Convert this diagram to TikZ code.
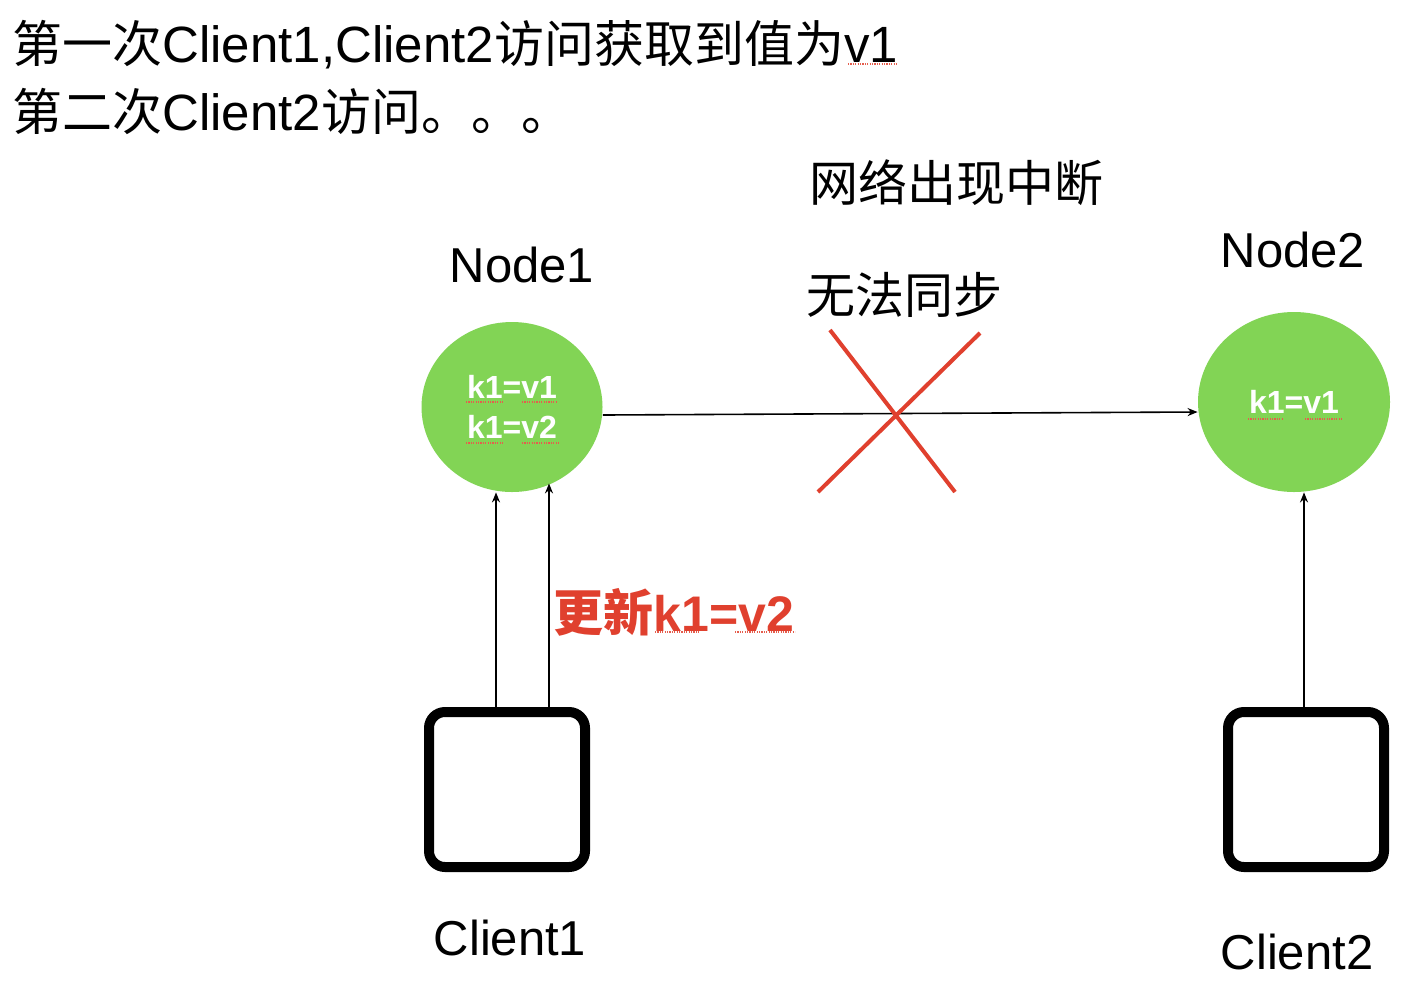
\documentclass[tikz,border=0pt]{standalone}
\usepackage{fontspec}
\setmainfont{Liberation Sans}
\newfontfamily\cjk{Noto Sans CJK SC}
\usetikzlibrary{shapes.geometric,arrows.meta}
\definecolor{ngreen}{RGB}{130,212,85}
\definecolor{xred}{RGB}{224,64,46}
\newcommand\zh[1]{{\cjk #1}}
\begin{document}
\begin{tikzpicture}[x=0.5pt,y=-0.5pt,
  arr/.style={line width=0.8pt,-{Stealth[length=5pt,width=4pt]}},
  nodecircle/.style={ellipse,fill=ngreen,inner sep=0pt,text=white,
    font=\fontsize{16}{20}\selectfont\bfseries,align=center},
  clientbox/.style={draw,line width=5pt,rounded corners=8pt,
    minimum width=78pt,minimum height=77.5pt,inner sep=0pt},
  lbl/.style={font=\fontsize{24.5}{28}\selectfont,inner sep=0pt},
  toplbl/.style={font=\fontsize{25}{30}\selectfont,inner sep=0pt,anchor=base west},
  spell/.style={xred!85,line width=0.7pt,dash pattern=on 0.6pt off 0.6pt}]
\useasboundingbox (0,0) rectangle (1406,986);
\fill[white] (0,0) rectangle (1406,986);

% header text
\node[toplbl] (t1) at (12,62) {\zh{第一次}{\fontsize{25.5}{30}\selectfont Client1,Client2}\zh{访问获取到值为}{\fontsize{25.5}{30}\selectfont v1}};
\node[toplbl] (t2) at (12,130) {\zh{第二次}{\fontsize{25.5}{30}\selectfont Client2}\zh{访问。。。}};

% labels
\node[lbl] (lnet) at (956,183) {\zh{网络出现中断}};
\node[lbl] (lsync) at (904,295) {\zh{无法同步}};
\node[lbl] (lnode1) at (522,265) {Node1};
\node[lbl] (lnode2) at (1293,250) {Node2};
\node[lbl] (lc1) at (510,938) {Client1};
\node[lbl] (lc2) at (1297,952) {Client2};

% nodes
\node[nodecircle,minimum width=90.5pt,minimum height=85pt] (n1) at (512,407)
  {\raisebox{-1pt}{k1=v1}\\[0pt]\raisebox{-1pt}{k1=v2}};
\node[nodecircle,minimum width=96pt,minimum height=90pt] (n2) at (1294,402) {k1=v1};

% clients
\node[clientbox] (c1) at (507,789.5) {};
\node[clientbox] (c2) at (1306,789.5) {};

% connectors
\draw[arr] ([yshift=-4pt]n1.east) -- ([yshift=-5pt]n2.west);
\draw[arr] ([xshift=-5.5pt]c1.north) -- ([xshift=-5.5pt]c1.north |- n1.south);
\draw[arr] ([xshift=21pt]c1.north) -- ([xshift=21pt]c1.north |- n1.-62);
\draw[arr] ([xshift=-1pt]c2.north) -- ([xshift=-1pt]c2.north |- n2.south);

% red cross
\draw[xred,line width=2pt] (830,330) -- (955,492);
\draw[xred,line width=2pt] (980,333) -- (818,492);

% update label
\node[inner sep=0pt,text=xred,font=\fontsize{25}{30}\selectfont\bfseries] (lupd) at (674,612)
  {\zh{更新}k1=v2};

% spell-check underlines
\draw[spell] (848,64) -- (898,64);
\draw[spell] (466,402) -- (503,402);
\draw[spell] (522,402) -- (557,402);
\draw[spell] (466,443) -- (503,443);
\draw[spell] (522,443) -- (560,443);
\draw[spell] (1248,419) -- (1283,419);
\draw[spell] (1305,419) -- (1342,419);
\draw[spell] (655,632) -- (700,632);
\draw[spell] (735,632) -- (795,632);
\end{tikzpicture}
\end{document}
